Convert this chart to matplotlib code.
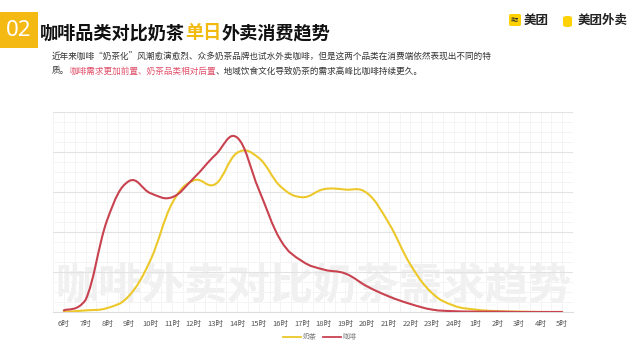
import matplotlib
matplotlib.use("Agg")
import matplotlib.pyplot as plt
from matplotlib.path import Path
from matplotlib.patches import PathPatch, FancyBboxPatch, Rectangle
from matplotlib.lines import Line2D
import numpy as np

plt.rcParams['font.family'] = ['Noto Sans CJK SC', 'DejaVu Sans']

hours = ["6时", "7时", "8时", "9时", "10时", "11时", "12时", "13时", "14时", "15时", "16时",
         "17时", "18时", "19时", "20时", "21时", "22时", "23时", "24时", "1时", "2时", "3时", "4时", "5时"]
milk_tea = [0.0, 0.04, 0.1, 0.4, 1.3, 2.72, 3.29, 3.2, 3.98, 3.85, 3.14,
            2.87, 3.07, 3.06, 2.97, 2.22, 1.18, 0.47, 0.16, 0.06, 0.02, 0.01, 0.0, 0.0]
coffee = [0.04, 0.3, 2.3, 3.27, 2.97, 2.87, 3.35, 3.93, 4.36, 3.06, 1.8,
          1.27, 1.06, 0.96, 0.64, 0.39, 0.2, 0.06, 0.02, 0.01, 0.01, 0.0, 0.0, 0.0]
series_names = ["奶茶", "咖啡"]
colors = ["#ECC82A", "#C8424F"]

title_pre = "咖啡品类对比奶茶"
title_hi = "单日"
title_post = "外卖消费趋势"
sub1 = "近年来咖啡“奶茶化”风潮愈演愈烈、众多奶茶品牌也试水外卖咖啡，但是这两个品类在消费端依然表现出不同的特"
sub2a = "质。"
sub2b = "咖啡需求更加前置、奶茶品类相对后置"
sub2c = "、地域饮食文化导致奶茶的需求高峰比咖啡持续更久。"
watermark = "咖啡外卖对比奶茶需求趋势"

fig = plt.figure(figsize=(6.4, 3.6), dpi=100)
fig.patch.set_facecolor("white")

ax = fig.add_axes([53/640, 1-312/360, 520/640, 200/360])
x = np.arange(len(hours))
ax.set_xlim(-0.5, len(hours)-0.5)
ax.set_ylim(0, 5)

ax.text(0.5, 0.13, watermark, transform=ax.transAxes, ha="center", va="center",
        fontsize=31, color="#F0F0F0", fontweight="bold", zorder=0.5)

ax.set_yticks(np.arange(0, 5.01, 1))
ax.set_yticks(np.arange(0, 5.01, 0.25), minor=True)
ax.set_xticks(x)
ax.set_xticks(np.arange(-0.5, len(hours), 0.5), minor=True)
ax.set_xticklabels(hours, fontsize=5.5, color="#555555")
ax.tick_params(axis="y", which="both", left=False, labelleft=False)
ax.tick_params(axis="x", which="both", length=0, pad=6)
ax.grid(True, which="minor", color="#F3F3F3", linewidth=0.6, zorder=0)
ax.grid(True, which="major", axis="y", color="#E2E2E2", linewidth=0.8, zorder=0)
ax.grid(True, which="major", axis="x", color="#F3F3F3", linewidth=0.6, zorder=0)
for s in ["top", "right", "left"]:
    ax.spines[s].set_visible(False)
ax.spines["bottom"].set_color("#DDDDDD")
ax.set_axisbelow(True)


def smooth_path(xs, ys, k=0.2):
    xs = np.asarray(xs, float); ys = np.asarray(ys, float)
    n = len(xs)
    verts = [(xs[0], ys[0])]
    codes = [Path.MOVETO]
    for i in range(n-1):
        p0 = (xs[max(i-1, 0)], ys[max(i-1, 0)])
        p1 = (xs[i], ys[i])
        p2 = (xs[i+1], ys[i+1])
        p3 = (xs[min(i+2, n-1)], ys[min(i+2, n-1)])
        c1 = (p1[0] + (p2[0]-p0[0])*k, max(p1[1] + (p2[1]-p0[1])*k, 0))
        c2 = (p2[0] - (p3[0]-p1[0])*k, max(p2[1] - (p3[1]-p1[1])*k, 0))
        verts += [c1, c2, p2]
        codes += [Path.CURVE4]*3
    return Path(verts, codes)


for vals, c in zip([milk_tea, coffee], colors):
    ax.add_patch(PathPatch(smooth_path(x, vals), facecolor="none", edgecolor=c,
                           linewidth=1.5, zorder=3, capstyle="round", joinstyle="round"))

handles = [Line2D([], [], color=c, linewidth=1.3) for c in colors]
fig.legend(handles, series_names, loc="center", bbox_to_anchor=(320/640, 1-337/360),
           ncol=2, frameon=False, fontsize=5, handlelength=2.6, columnspacing=0.8,
           handletextpad=0.3, labelcolor="#777777")

# header
fig.patches.append(Rectangle((0, 1-48/360), 38/640, 36/360, transform=fig.transFigure,
                             facecolor="#F5B914", edgecolor="none"))
fig.text(19/640, 1-31/360, "02", ha="center", va="center", fontsize=16, color="white",
         family=["Noto Sans", "DejaVu Sans"])

y_t = 1-33/360
t1 = fig.text(40/640, y_t, title_pre, ha="left", va="center", fontsize=13.1,
              fontweight="bold", color="#111111")
fig.canvas.draw()
r = fig.canvas.get_renderer()
bb = t1.get_window_extent(r)
t2 = fig.text(bb.x1/640, y_t, title_hi, ha="left", va="center", fontsize=13.1,
              fontweight="bold", color="#F2B90F")
bb2 = t2.get_window_extent(r)
fig.text(bb2.x1/640, y_t, title_post, ha="left", va="center", fontsize=13.1,
         fontweight="bold", color="#111111")

fs = 6.2
fig.text(52/640, 1-57/360, sub1, ha="left", va="center", fontsize=fs, color="#333333")
s1 = fig.text(52/640, 1-71/360, sub2a, ha="left", va="center", fontsize=fs, color="#333333")
fig.canvas.draw()
b = s1.get_window_extent(r)
s2 = fig.text(b.x1/640, 1-71/360, sub2b, ha="left", va="center", fontsize=fs, color="#E0506A")
b = s2.get_window_extent(r)
fig.text(b.x1/640, 1-71/360, sub2c, ha="left", va="center", fontsize=fs, color="#333333")

# logos
fig.patches.append(FancyBboxPatch((509/640, 1-26/360), 12/640, 12/360,
                                  boxstyle="round,pad=0,rounding_size=0.004",
                                  transform=fig.transFigure, facecolor="#FFD100", edgecolor="none"))
fig.text(515/640, 1-20/360, "美团", ha="center", va="center", fontsize=3, color="#333333")
fig.text(524/640, 1-20/360, "美团", ha="left", va="center", fontsize=9, fontweight="bold", color="#222222")
fig.patches.append(FancyBboxPatch((563/640, 1-27/360), 9/640, 11/360,
                                  boxstyle="round,pad=0,rounding_size=0.006",
                                  transform=fig.transFigure, facecolor="#FFD100", edgecolor="none"))
fig.text(578/640, 1-20/360, "美团外卖", ha="left", va="center", fontsize=9, fontweight="bold", color="#222222")

fig.savefig("out.png", dpi=100)
